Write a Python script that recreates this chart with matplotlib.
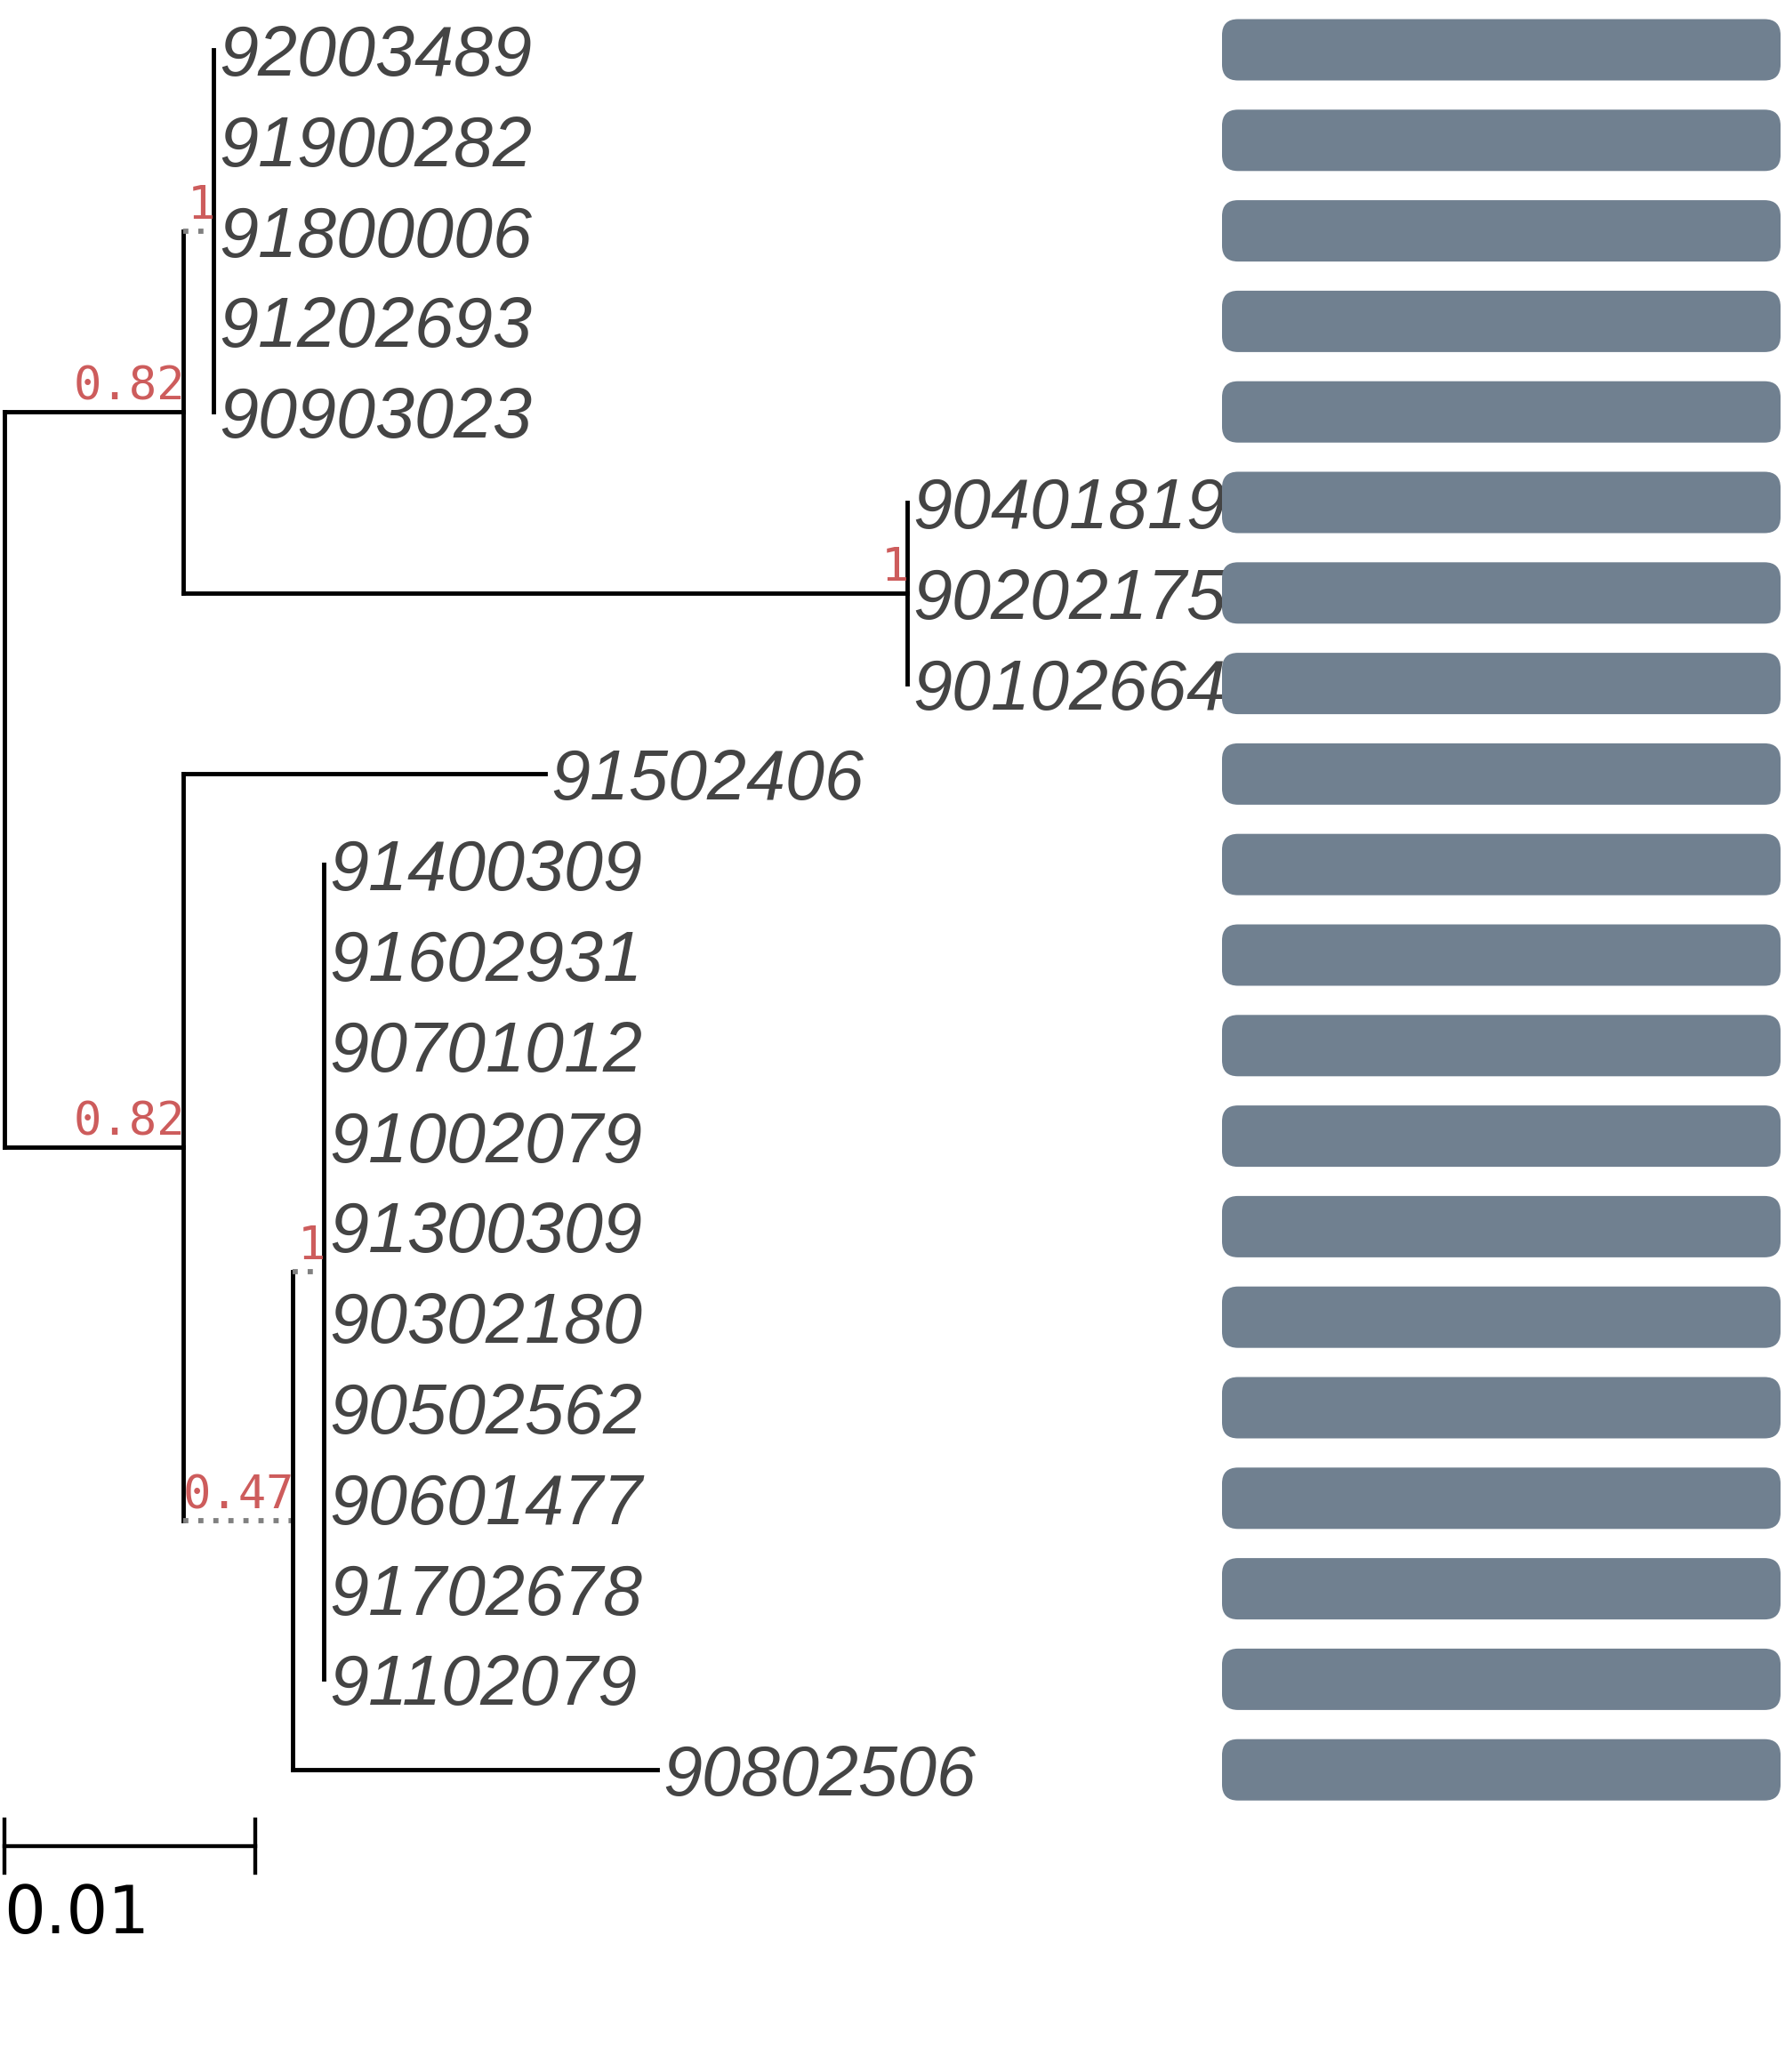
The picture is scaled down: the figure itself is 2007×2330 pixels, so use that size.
import matplotlib
matplotlib.use("Agg")
from matplotlib import pyplot as plt
from matplotlib.patches import FancyBboxPatch

# leaves, top to bottom
leaf_names = [
    "92003489", "91900282", "91800006", "91202693", "90903023",
    "90401819", "90202175", "90102664",
    "91502406",
    "91400309", "91602931", "90701012", "91002079", "91300309",
    "90302180", "90502562", "90601477", "91702678", "91102079",
    "90802506",
]
leaf_parent = ["B"] * 5 + ["C"] * 3 + ["D"] + ["F"] * 10 + ["E"]
leaf_length = [0.0] * 8 + [0.01443] + [0.0] * 10 + [0.01454]

# internal nodes
node_names = ["A", "B", "C", "D", "E", "F"]
node_parent = ["root", "A", "A", "root", "D", "E"]
node_length = [0.00713, 0.0012, 0.02887, 0.00713, 0.00436, 0.00124]
node_support = ["0.82", "1", "1", "0.82", "0.47", "1"]
node_dotted = [False, True, False, False, True, True]

# bar track on the right (all equal)
bar_values = [1.0] * 20

scale_length = 0.01

W, H, DPI = 2007, 2330, 100
px_per_unit = 28200.0
row_px = 101.8
top_px = 56.0

fig = plt.figure(figsize=(W / DPI, H / DPI), dpi=DPI)
ax = fig.add_axes([0, 0, 1, 1])
root_px = 5.0
ax.set_xlim(-root_px / px_per_unit, (W - root_px) / px_per_unit)
ylim = ((H - top_px) / row_px, -top_px / row_px)
ax.set_ylim(*ylim)
ax.axis("off")

# node coordinates
x = {"root": 0.0}
for n, p, l in zip(node_names, node_parent, node_length):
    x[n] = x[p] + l
children = {n: [] for n in ["root"] + node_names}
for n, p in zip(node_names, node_parent):
    children[p].append(n)
y = {}
for i, (lf, p, l) in enumerate(zip(leaf_names, leaf_parent, leaf_length)):
    x[lf] = x[p] + l
    y[lf] = i
    children[p].append(lf)


def node_y(n):
    if n in y:
        return y[n]
    ys = [node_y(c) for c in children[n]]
    y[n] = (min(ys) + max(ys)) / 2
    return y[n]


node_y("root")

lw = 3.5
dotted = dict(zip(node_names, node_dotted))
for n, kids in children.items():
    ys = [y[c] for c in kids]
    ax.plot([x[n], x[n]], [min(ys), max(ys)], color="black", lw=lw,
            solid_capstyle="projecting")
    for c in kids:
        if x[c] == x[n]:
            continue
        if dotted.get(c, False):
            ax.plot([x[n], x[c]], [y[c], y[c]], color="#808080", lw=4.2,
                    linestyle=(0, (1, 1.9)), dash_capstyle="butt")
        else:
            ax.plot([x[n], x[c]], [y[c], y[c]], color="black", lw=lw,
                    solid_capstyle="projecting")

for lf in leaf_names:
    ax.annotate(lf, (x[lf], y[lf]), xytext=(6, -29), textcoords="offset pixels",
                ha="left", va="baseline", fontsize=57, fontstyle="italic",
                family="Liberation Sans", color="#444444", zorder=3)

for n, s in zip(node_names, node_support):
    ax.annotate(s, (x[n], y[n]), xytext=(2, 14), textcoords="offset pixels",
                ha="right", va="baseline", fontsize=37.5,
                family="DejaVu Sans Mono", color="#CD5C5C", zorder=4)

# scale bar
sy = (2076 - top_px) / row_px
tick = 30 / row_px
ax.plot([0, scale_length], [sy, sy], color="black", lw=lw * 0.9)
for sx in (0, scale_length):
    ax.plot([sx, sx], [sy - tick, sy + tick], color="black", lw=lw * 0.9)
ax.text(-1.0 / px_per_unit, (2117 - top_px) / row_px, f"{scale_length:g}",
        ha="left", va="top", fontsize=53, family="DejaVu Sans", color="black")

# bars
bar_left, bar_w = 1374, 628
bax = fig.add_axes([bar_left / W, 0, bar_w / W, 1])
bax.set_xlim(0, 1)
bax.set_ylim(*ylim)
bax.axis("off")
bar_h = 69 / row_px
radius_px = 18
aspect = (1 / row_px) / (1 / bar_w)
for i, v in enumerate(bar_values):
    bax.add_patch(FancyBboxPatch(
        (0, i - bar_h / 2), v, bar_h,
        boxstyle=f"round,pad=0,rounding_size={radius_px / bar_w}",
        mutation_aspect=aspect, facecolor="#708090", edgecolor="none",
        zorder=1))

fig.savefig("out.png", dpi=DPI, facecolor="white")
